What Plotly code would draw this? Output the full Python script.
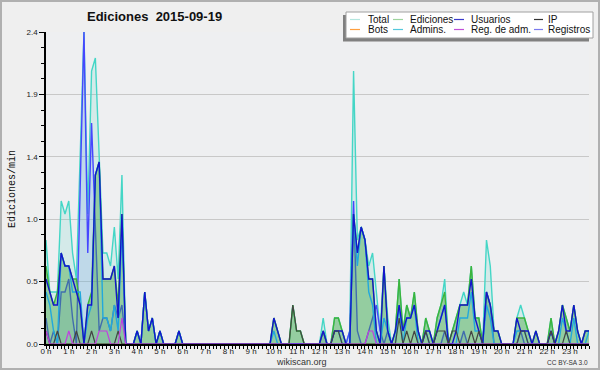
import plotly.graph_objects as go

# ---------------- data (edits per minute, 10-minute bins, 00:00 .. 23:50) ----------------
hour_labels = [f"{h} h" for h in range(24)]

total = [
    0.8, 0.4, 0.4, 0.4, 1.1, 1.0, 1.1, 0.7, 0.5, 1.4, 2.4, 1.0,
    2.1, 2.2, 1.5, 0.7, 0.7, 0.6, 0.9, 0.5, 1.3, 0, 0, 0,
    0.1, 0, 0.4, 0.1, 0.2, 0, 0.1, 0, 0, 0, 0, 0.1,
    0, 0, 0, 0, 0, 0, 0, 0, 0, 0, 0, 0,
    0, 0, 0, 0, 0, 0, 0, 0, 0, 0, 0, 0,
    0.2, 0.1, 0, 0, 0, 0.3, 0.1, 0.1, 0, 0, 0, 0,
    0, 0.2, 0, 0, 0.2, 0.2, 0.1, 0, 0.1, 2.1, 0.8, 0.9,
    0.8, 0.6, 0.7, 0.4, 0.1, 0.6, 0.2, 0, 0.1, 0.5, 0.1, 0.3,
    0.2, 0.4, 0.1, 0, 0.2, 0.1, 0, 0.2, 0.3, 0.5, 0, 0.1,
    0.2, 0.3, 0.4, 0.3, 0.6, 0.2, 0.2, 0, 0.8, 0.6, 0.1, 0.1,
    0, 0, 0, 0, 0.2, 0.3, 0.2, 0.1, 0, 0.1, 0, 0,
    0, 0.2, 0, 0.1, 0.3, 0.2, 0.1, 0.3, 0.1, 0, 0.1, 0.1,
]

ediciones = [
    0.6, 0.4, 0.3, 0.4, 0.7, 0.6, 0.6, 0.5, 0.5, 0.3, 0, 0.3,
    0.4, 1.3, 1.4, 0.5, 0.5, 0.5, 0.6, 0.3, 1.0, 0, 0, 0,
    0.1, 0, 0.4, 0.1, 0.2, 0, 0.1, 0, 0, 0, 0, 0.1,
    0, 0, 0, 0, 0, 0, 0, 0, 0, 0, 0, 0,
    0, 0, 0, 0, 0, 0, 0, 0, 0, 0, 0, 0,
    0.2, 0.1, 0, 0, 0, 0.3, 0.1, 0.1, 0, 0, 0, 0,
    0, 0.1, 0, 0, 0.2, 0.2, 0.1, 0, 0, 1.0, 0.7, 0.9,
    0.8, 0.5, 0.5, 0.1, 0, 0.6, 0.1, 0, 0.1, 0.5, 0.1, 0.3,
    0.2, 0.4, 0.1, 0, 0.2, 0.1, 0, 0.2, 0.3, 0.4, 0, 0.1,
    0.2, 0.3, 0.3, 0.3, 0.6, 0.2, 0.2, 0, 0.4, 0.3, 0.1, 0.1,
    0, 0, 0, 0, 0.2, 0.2, 0.2, 0.1, 0, 0.1, 0, 0,
    0, 0.2, 0, 0.1, 0.3, 0.2, 0.1, 0.3, 0.1, 0, 0.1, 0.1,
]

registros = [
    0.2, 0, 0.1, 0, 0.4, 0.4, 0.5, 0.2, 0, 1.1, 2.4, 0.7,
    1.7, 0.9, 0.1, 0.2, 0.2, 0.1, 0.3, 0.2, 0.3, 0, 0, 0,
    0, 0, 0, 0, 0, 0, 0, 0, 0, 0, 0, 0,
    0, 0, 0, 0, 0, 0, 0, 0, 0, 0, 0, 0,
    0, 0, 0, 0, 0, 0, 0, 0, 0, 0, 0, 0,
    0, 0, 0, 0, 0, 0, 0, 0, 0, 0, 0, 0,
    0, 0.1, 0, 0, 0, 0, 0, 0, 0.1, 1.1, 0.1, 0,
    0, 0.1, 0.2, 0.3, 0.1, 0, 0.1, 0, 0, 0, 0, 0,
    0, 0, 0, 0, 0, 0, 0, 0, 0, 0.1, 0, 0,
    0, 0, 0.1, 0, 0, 0, 0, 0, 0.4, 0.3, 0, 0,
    0, 0, 0, 0, 0, 0.1, 0, 0, 0, 0, 0, 0,
    0, 0, 0, 0, 0, 0, 0, 0, 0, 0, 0, 0,
]

usuarios = [
    0.5, 0.4, 0.3, 0.3, 0.7, 0.6, 0.6, 0.5, 0.4, 0.3, 0, 0.3,
    0.3, 1.3, 1.4, 0.5, 0.5, 0.5, 0.6, 0.2, 1.0, 0, 0, 0,
    0.1, 0, 0.4, 0.1, 0.2, 0, 0.1, 0, 0, 0, 0, 0.1,
    0, 0, 0, 0, 0, 0, 0, 0, 0, 0, 0, 0,
    0, 0, 0, 0, 0, 0, 0, 0, 0, 0, 0, 0,
    0.2, 0.1, 0, 0, 0, 0, 0, 0, 0, 0, 0, 0,
    0, 0.1, 0, 0, 0.1, 0.1, 0.1, 0, 0, 1.0, 0.7, 0.9,
    0.8, 0.5, 0.5, 0.1, 0, 0.6, 0.1, 0, 0.1, 0.3, 0.1, 0.2,
    0.2, 0.3, 0.1, 0, 0.1, 0.1, 0, 0.1, 0.2, 0.3, 0, 0,
    0.1, 0.3, 0.3, 0.3, 0.5, 0.2, 0.1, 0, 0.4, 0.3, 0.1, 0.1,
    0, 0, 0, 0, 0.2, 0.1, 0.1, 0.1, 0, 0.1, 0, 0,
    0, 0.1, 0, 0.1, 0.3, 0.1, 0.1, 0.3, 0.1, 0, 0.1, 0.1,
]

ip = [
    0.1, 0, 0, 0.1, 0, 0, 0, 0, 0.1, 0, 0, 0,
    0.1, 0, 0, 0, 0, 0, 0, 0.1, 0, 0, 0, 0,
    0, 0, 0, 0, 0, 0, 0, 0, 0, 0, 0, 0,
    0, 0, 0, 0, 0, 0, 0, 0, 0, 0, 0, 0,
    0, 0, 0, 0, 0, 0, 0, 0, 0, 0, 0, 0,
    0, 0, 0, 0, 0, 0.3, 0.1, 0.1, 0, 0, 0, 0,
    0, 0, 0, 0, 0.1, 0.1, 0, 0, 0, 0, 0, 0,
    0, 0, 0, 0, 0, 0, 0, 0, 0, 0.2, 0, 0.1,
    0, 0.1, 0, 0, 0.1, 0, 0, 0.1, 0.1, 0.1, 0, 0.1,
    0.1, 0, 0, 0, 0.1, 0, 0.1, 0, 0, 0, 0, 0,
    0, 0, 0, 0, 0, 0.1, 0.1, 0, 0, 0, 0, 0,
    0, 0.1, 0, 0, 0, 0.1, 0, 0, 0, 0, 0, 0,
]

bots = [
    0, 0, 0, 0, 0, 0, 0, 0, 0, 0, 0, 0,
    0, 0, 0, 0, 0, 0, 0, 0, 0, 0, 0, 0,
    0, 0, 0, 0, 0, 0, 0, 0, 0, 0, 0, 0,
    0, 0, 0, 0, 0, 0, 0, 0, 0, 0, 0, 0,
    0, 0, 0, 0, 0, 0, 0, 0, 0, 0, 0, 0,
    0, 0, 0, 0, 0, 0, 0, 0, 0, 0, 0, 0,
    0, 0, 0, 0, 0, 0, 0, 0, 0, 0, 0, 0,
    0, 0, 0, 0, 0, 0, 0, 0, 0, 0, 0, 0,
    0, 0, 0, 0, 0, 0, 0, 0, 0, 0, 0, 0,
    0, 0, 0, 0, 0, 0, 0, 0, 0, 0, 0, 0,
    0, 0, 0, 0, 0, 0, 0, 0, 0, 0, 0, 0,
    0, 0, 0, 0, 0, 0, 0, 0, 0, 0, 0, 0,
]

admins = [
    0.4, 0.3, 0.1, 0, 0.7, 0.6, 0.6, 0.4, 0.4, 0.4, 0, 0.2,
    0.3, 1.3, 1.4, 0.2, 0.2, 0.1, 0.3, 0.1, 0.9, 0, 0, 0,
    0.1, 0, 0.4, 0.1, 0.2, 0, 0.1, 0, 0, 0, 0, 0.1,
    0, 0, 0, 0, 0, 0, 0, 0, 0, 0, 0, 0,
    0, 0, 0, 0, 0, 0, 0, 0, 0, 0, 0, 0,
    0.1, 0, 0, 0, 0, 0, 0, 0, 0, 0, 0, 0,
    0, 0, 0, 0, 0.1, 0.1, 0, 0, 0, 1.0, 0.6, 0.9,
    0.8, 0.4, 0.3, 0, 0, 0.2, 0.1, 0, 0, 0.3, 0, 0.2,
    0.2, 0.3, 0, 0, 0.1, 0, 0, 0.1, 0.2, 0.3, 0, 0,
    0, 0.2, 0.2, 0.2, 0.4, 0.1, 0.1, 0, 0.3, 0.2, 0, 0,
    0, 0, 0, 0, 0.1, 0.1, 0.1, 0, 0, 0, 0, 0,
    0, 0.1, 0, 0, 0.2, 0.1, 0, 0.2, 0, 0, 0, 0.1,
]

reg_adm = [
    0.1, 0, 0, 0, 0, 0, 0.1, 0, 0, 0, 0, 0,
    0, 0, 0.1, 0.1, 0.1, 0, 0, 0, 0.2, 0, 0, 0,
    0, 0, 0, 0, 0, 0, 0, 0, 0, 0, 0, 0,
    0, 0, 0, 0, 0, 0, 0, 0, 0, 0, 0, 0,
    0, 0, 0, 0, 0, 0, 0, 0, 0, 0, 0, 0,
    0, 0, 0, 0, 0, 0, 0, 0, 0, 0, 0, 0,
    0, 0, 0, 0, 0, 0, 0, 0, 0, 0, 0, 0,
    0, 0.1, 0.1, 0, 0, 0, 0, 0, 0, 0, 0, 0,
    0, 0, 0, 0, 0, 0, 0, 0, 0, 0, 0, 0,
    0, 0, 0, 0, 0, 0, 0, 0, 0, 0, 0, 0,
    0, 0, 0, 0, 0, 0, 0, 0, 0, 0, 0, 0,
    0, 0, 0, 0, 0, 0, 0, 0, 0, 0, 0, 0,
]

y_tickvals = [0, 0.48, 0.96, 1.44, 1.92, 2.4]
y_ticktext = ["0.0", "0.5", "1.0", "1.4", "1.9", "2.4"]

legend_names = ["Total", "Ediciones", "Usuarios", "IP", "Bots", "Admins.", "Reg. de adm.", "Registros"]
legend_colors = ["#b4e6df", "#9ed49e", "#3a3acc", "#333333", "#ffa040", "#55c8dc", "#c050d8", "#7a7aee"]

# ---------------- figure ----------------
W, H = 600, 370
L, R, T, B = 46, 11, 32, 26
PW, PH = W - L - R, H - T - B
FONT = "Liberation Sans"


def px(x):
    return (x - L) / PW


def py(y):
    return (H - B - y) / PH


hours = [i / 6 for i in range(len(total))]

fig = go.Figure()

fig.add_trace(go.Scatter(x=hours, y=bots, mode="lines", line=dict(color="#ff9933", width=1.2),
                         showlegend=False, hoverinfo="skip"))
fig.add_trace(go.Scatter(x=hours, y=total, mode="lines", fill="tozeroy",
                         fillcolor="rgba(70,205,190,0.15)", line=dict(color="#44d6c6", width=1.4),
                         showlegend=False, hoverinfo="skip"))
fig.add_trace(go.Scatter(x=hours, y=registros, mode="lines", fill="tozeroy",
                         fillcolor="rgba(120,160,230,0.22)", line=dict(color="#4646ff", width=1.4),
                         showlegend=False, hoverinfo="skip"))
fig.add_trace(go.Scatter(x=hours, y=ediciones, mode="lines", fill="tozeroy",
                         fillcolor="rgba(60,165,60,0.42)", line=dict(color="#3cb43c", width=1.4),
                         showlegend=False, hoverinfo="skip"))
fig.add_trace(go.Scatter(x=hours, y=admins, mode="lines", line=dict(color="#22a8dc", width=1.4),
                         showlegend=False, hoverinfo="skip"))
fig.add_trace(go.Scatter(x=hours, y=usuarios, mode="lines", line=dict(color="#1414cc", width=1.4),
                         showlegend=False, hoverinfo="skip"))
fig.add_trace(go.Scatter(x=hours, y=ip, mode="lines", line=dict(color="#444444", width=1.2),
                         showlegend=False, hoverinfo="skip"))
fig.add_trace(go.Scatter(x=hours, y=reg_adm, mode="lines", line=dict(color="#c040e0", width=1.2),
                         showlegend=False, hoverinfo="skip"))

shapes = []
annotations = []

# outer border
shapes.append(dict(type="rect", xref="paper", yref="paper", x0=px(1), x1=px(599), y0=py(369), y1=py(1),
                   line=dict(color="#b0b0b0", width=2), fillcolor="rgba(0,0,0,0)", layer="above"))

# legend shadow + box
shapes.append(dict(type="rect", xref="paper", yref="paper", x0=px(343), x1=px(589), y0=py(41.5), y1=py(15),
                   line=dict(width=0), fillcolor="#808080", layer="above"))
shapes.append(dict(type="rect", xref="paper", yref="paper", x0=px(346), x1=px(593), y0=py(38), y1=py(12),
                   line=dict(color="#a0a0a0", width=1), fillcolor="#ffffff", layer="above"))

col_lines = [(350, 360), (393, 403), (454, 464), (534, 543)]
col_text = [366, 408, 469, 546]
row_y = [19.5, 29.5]
for k, (name, color) in enumerate(zip(legend_names, legend_colors)):
    r, c = divmod(k, 4)
    x0, x1 = col_lines[c]
    shapes.append(dict(type="line", xref="paper", yref="paper", x0=px(x0), x1=px(x1),
                       y0=py(row_y[r]), y1=py(row_y[r]), line=dict(color=color, width=1.2), layer="above"))
    annotations.append(dict(xref="paper", yref="paper", x=px(col_text[c]), y=py(row_y[r]), text=name,
                            showarrow=False, xanchor="left", yanchor="middle",
                            font=dict(family=FONT, size=10, color="#111111")))

# title
annotations.append(dict(xref="paper", yref="paper", x=px(85), y=py(17), text="Ediciones\u00a0 2015-09-19",
                        showarrow=False, xanchor="left", yanchor="middle",
                        font=dict(family=FONT, size=13, color="#111111", weight="bold")))
# y-axis title
annotations.append(dict(xref="paper", yref="paper", x=px(12), y=py(189), text="Ediciones/min",
                        showarrow=False, xanchor="center", yanchor="middle", textangle=-90,
                        font=dict(family="Liberation Mono", size=10, color="#111111")))
# footer
annotations.append(dict(xref="paper", yref="paper", x=px(301), y=py(361.5), text="wikiscan.org",
                        showarrow=False, xanchor="center", yanchor="middle",
                        font=dict(family=FONT, size=9, color="#333333")))
annotations.append(dict(xref="paper", yref="paper", x=px(590), y=py(362), text="CC BY-SA 3.0",
                        showarrow=False, xanchor="right", yanchor="middle",
                        font=dict(family=FONT, size=6.5, color="#333333")))

fig.update_layout(
    width=W, height=H,
    margin=dict(l=L, r=R, t=T, b=B, pad=0),
    paper_bgcolor="#efefef",
    plot_bgcolor="#eeeff1",
    showlegend=False,
    shapes=shapes,
    annotations=annotations,
    xaxis=dict(
        range=[0, hours[-1]],
        tickmode="array", tickvals=list(range(24)), ticktext=hour_labels,
        ticks="outside", ticklen=3, tickwidth=1, tickcolor="black",
        ticklabelstandoff=-4,
        minor=dict(dtick=1 / 6, tick0=0, ticks="outside", ticklen=3, tickcolor="black", showgrid=False),
        showgrid=False, zeroline=False,
        showline=True, linecolor="black", linewidth=1.5,
        tickfont=dict(family=FONT, size=8, color="#222222"),
        automargin=False,
        fixedrange=True,
    ),
    yaxis=dict(
        range=[0, 2.4],
        tickmode="array", tickvals=y_tickvals, ticktext=y_ticktext,
        ticks="outside", ticklen=5, tickwidth=1, tickcolor="black",
        minor=dict(dtick=0.12, tick0=0, ticks="outside", ticklen=3, tickcolor="black", showgrid=False),
        showgrid=True, gridcolor="#c8c8c8", gridwidth=1,
        zeroline=False,
        showline=True, linecolor="black", linewidth=1.5,
        tickfont=dict(family=FONT, size=8, color="#222222"),
        automargin=False,
        fixedrange=True,
    ),
)

fig.write_html("out.html", config={"displayModeBar": False},
               post_script="document.body.style.margin='0';document.body.style.padding='0';"
                           "document.documentElement.style.overflow='hidden';")
